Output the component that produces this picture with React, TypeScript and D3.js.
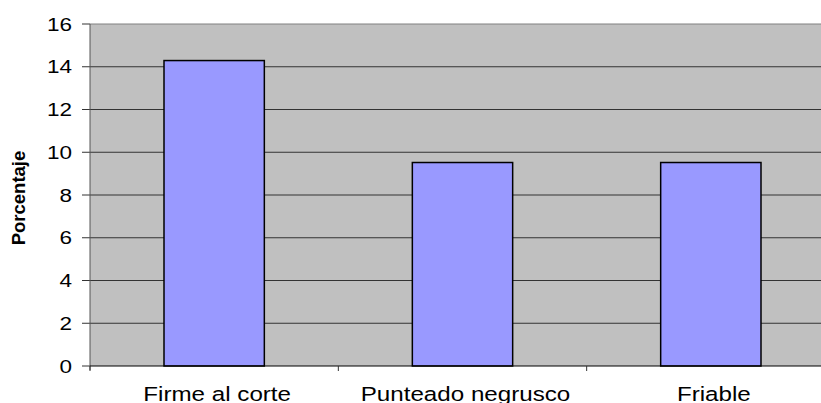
import React from "react";
import * as d3 from "d3";

const categories = ["Firme al corte", "Punteado negrusco", "Friable"];
const values = [14.29, 9.52, 9.52];
const yTicks = [0, 2, 4, 6, 8, 10, 12, 14, 16];

export default function App() {
  const W = 821, H = 403;
  const left = 90, right = 835, top = 24, bottom = 366;
  const x = d3.scaleBand<string>().domain(categories).range([left, right]).paddingInner(0.596).paddingOuter(0.298);
  const y = d3.scaleLinear().domain([0, 16]).range([bottom, top]);
  const step = (right - left) / categories.length;
  const font = "Arial, 'Liberation Sans', sans-serif";
  return (
    <svg width={W} height={H} style={{ position: "absolute", left: 0, top: 0 }}>
      <rect x={left} y={top} width={W - left} height={bottom - top} fill="#C0C0C0" />
      {yTicks.map((t) => (
        <g key={t}>
          {t > 0 && <line x1={left} x2={W} y1={y(t)} y2={y(t)} stroke={t === 16 ? "#808080" : "#333"} strokeWidth={1} />}
          <line x1={left - 8} x2={left} y1={y(t)} y2={y(t)} stroke="#333" />
          <text transform={`translate(72, ${y(t) + 6.5}) scale(1.25,1)`} textAnchor="end" fontFamily={font} fontSize={18} fill="#000">{t}</text>
        </g>
      ))}
      {categories.map((c, i) => (
        <rect key={c} x={x(c)} y={y(values[i])} width={x.bandwidth()} height={bottom - y(values[i])} fill="#9999FF" stroke="#000" strokeWidth={1.5} />
      ))}
      <line x1={left} x2={left} y1={top} y2={bottom + 4} stroke="#555" />
      <line x1={left} x2={W} y1={bottom} y2={bottom} stroke="#000" />
      {[0, 1, 2].map((i) => (
        <line key={i} x1={left + step * i} x2={left + step * i} y1={bottom} y2={bottom + 5} stroke="#333" />
      ))}
      {categories.map((c) => (
        <text key={c} transform={`translate(${(x(c) as number) + x.bandwidth() / 2 + 3}, 400.5) scale(1.24,1)`} textAnchor="middle" fontFamily={font} fontSize={19.5} fill="#000">{c}</text>
      ))}
      <text transform={`translate(25, 198) rotate(-90)`} textAnchor="middle" fontFamily={font} fontSize={18.5} fontWeight="bold" fill="#000">Porcentaje</text>
    </svg>
  );
}
